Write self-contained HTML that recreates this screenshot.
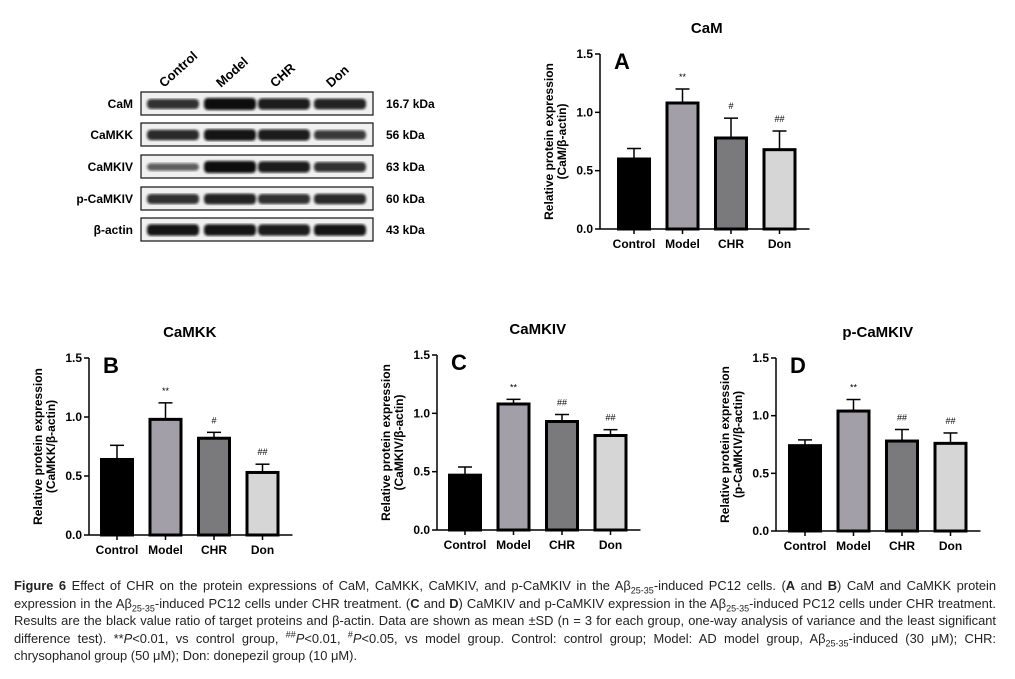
<!DOCTYPE html>
<html><head><meta charset="utf-8"><style>
body{margin:0;background:#fff;width:1015px;height:679px;overflow:hidden;position:relative;font-family:"Liberation Sans",sans-serif}
#cap{position:absolute;left:14px;top:577px;width:982px;font-family:"Liberation Sans",sans-serif;font-size:12.9px;line-height:17.6px;text-align:justify;color:#222}
#cap sub,#cap sup{line-height:0;font-size:9px}
</style></head><body>
<svg id="svg" width="1015" height="575" style="position:absolute;left:0;top:0" font-family="Liberation Sans, sans-serif">
<defs><filter id="blur"><feGaussianBlur stdDeviation="1.4"/></filter></defs>
<g id="blot"></g>
</svg>
<div id="cap"><b>Figure 6</b> Effect of CHR on the protein expressions of CaM, CaMKK, CaMKIV, and p-CaMKIV in the Aβ<sub>25-35</sub>-induced PC12 cells. (<b>A</b> and <b>B</b>) CaM and CaMKK protein expression in the Aβ<sub>25-35</sub>-induced PC12 cells under CHR treatment. (<b>C</b> and <b>D</b>) CaMKIV and p-CaMKIV expression in the Aβ<sub>25-35</sub>-induced PC12 cells under CHR treatment. Results are the black value ratio of target proteins and β-actin. Data are shown as mean ±SD (n = 3 for each group, one-way analysis of variance and the least significant difference test). **<i>P</i>&lt;0.01, vs control group, <sup>##</sup><i>P</i>&lt;0.01, <sup>#</sup><i>P</i>&lt;0.05, vs model group. Control: control group; Model: AD model group, Aβ<sub>25-35</sub>-induced (30 μM); CHR: chrysophanol group (50 μM); Don: donepezil group (10 μM).</div>
<script>
const NS="http://www.w3.org/2000/svg";
const svg=document.getElementById('svg');
function mk(t,a,p){const e=document.createElementNS(NS,t);for(const k in a)e.setAttribute(k,a[k]);(p||svg).appendChild(e);return e;}
const groups=["Control","Model","CHR","Don"];
const colors=["#000000","#a39fa8","#7a797c","#d6d6d6"];
const valsA=[0.60,1.08,0.78,0.68], errA=[0.09,0.12,0.17,0.16], sigA=["","**","#","##"];
const valsB=[0.64,0.98,0.82,0.53], errB=[0.12,0.14,0.05,0.07], sigB=["","**","#","##"];
const valsC=[0.47,1.08,0.93,0.81], errC=[0.07,0.04,0.06,0.05], sigC=["","**","##","##"];
const valsD=[0.74,1.04,0.78,0.76], errD=[0.05,0.10,0.10,0.09], sigD=["","**","##","##"];
const yTicks=[0,0.5,1.0,1.5], yTickLabels=["0.0","0.5","1.0","1.5"];
const blotRows=["CaM","CaMKK","CaMKIV","p-CaMKIV","β-actin"];
const blotKDa=["16.7 kDa","56 kDa","63 kDa","60 kDa","43 kDa"];
const blotIntensity=[[0.75,1,0.9,0.85],[0.8,0.95,0.9,0.7],[0.45,1,0.9,0.75],[0.75,0.85,0.75,0.8],[0.95,0.95,0.9,0.95]];

function chart(id,ax,y0,y15,firstX,title,letter,ylab2,vals,errs,sigs){
  const g=mk('g',{});
  const ys=v=>y0-(v/1.5)*(y0-y15);
  const xs=i=>firstX+i*48.5;
  const t=mk('text',{x:xs(1.5),y:y15-21,'text-anchor':'middle','font-size':15,'font-weight':'bold'},g);t.textContent=title;
  
  const L=mk('text',{x:ax+14,y:y15+15,'font-size':22,'font-weight':'bold'},g);L.textContent=letter;
  
  vals.forEach((v,i)=>{
    const x=xs(i),w=31;
    const top=ys(v+errs[i]);
    mk('line',{x1:x,x2:x,y1:ys(v),y2:top,stroke:'#000','stroke-width':1.5},g);
    mk('line',{x1:x-7,x2:x+7,y1:top,y2:top,stroke:'#000','stroke-width':1.5},g);
    const r=mk('rect',{x:x-w/2,y:ys(v),width:w,height:y0-ys(v),fill:colors[i],stroke:'#000','stroke-width':3},g);
    
    if(sigs[i]){const s=mk('text',{x:x,y:top-9,'text-anchor':'middle','font-size':9},g);s.textContent=sigs[i];}
    mk('line',{x1:x,x2:x,y1:y0,y2:y0+5,stroke:'#000','stroke-width':1.5},g);
    const xl=mk('text',{x:x,y:y0+19,'text-anchor':'middle','font-size':12,'font-weight':'bold'},g);xl.textContent=groups[i];
    
  });
  mk('line',{x1:ax,x2:ax,y1:y15,y2:y0,stroke:'#000','stroke-width':1.5},g);
  mk('line',{x1:ax,x2:xs(3)+30,y1:y0,y2:y0,stroke:'#000','stroke-width':1.5},g);
  yTicks.forEach((v,i)=>{
    mk('line',{x1:ax-5,x2:ax,y1:ys(v),y2:ys(v),stroke:'#000','stroke-width':1.5},g);
    const tl=mk('text',{x:ax-7,y:ys(v)+4,'text-anchor':'end','font-size':12,'font-weight':'bold'},g);tl.textContent=yTickLabels[i];
    
  });
  const cy=(y0+y15)/2;
  const yt=mk('text',{transform:`translate(${ax-47},${cy}) rotate(-90)`,'text-anchor':'middle','font-size':12,'font-weight':'bold'},g);
  yt.textContent='Relative protein expression';
  
  const yt2=mk('text',{transform:`translate(${ax-34},${cy}) rotate(-90)`,'text-anchor':'middle','font-size':12,'font-weight':'bold'},g);
  yt2.textContent=ylab2;
}
chart('a',600,229,54,634,'CaM','A','(CaM/β-actin)',valsA,errA,sigA);
chart('b',89,535,358,117,'CaMKK','B','(CaMKK/β-actin)',valsB,errB,sigB);
chart('c',437,530,355,465,'CaMKIV','C','(CaMKIV/β-actin)',valsC,errC,sigC);
chart('d',776,531,358,805,'p-CaMKIV','D','(p-CaMKIV/β-actin)',valsD,errD,sigD);

// blot
const blot=document.getElementById('blot');
const rowY=[92,123,155,187,218], laneX=[176,233,287,343];
groups.forEach((gname,i)=>{
  const t=mk('text',{transform:`translate(${laneX[i]-12},${88}) rotate(-42)`,'font-size':13,'font-weight':'bold'},blot);t.textContent=gname;
  
});
blotRows.forEach((r,j)=>{
  const y=rowY[j];
  const box=mk('rect',{x:141,y:y,width:232,height:23,fill:'#f0f0f0',stroke:'#222','stroke-width':1.3},blot);
  
  blotIntensity[j].forEach((v,i)=>{
    mk('rect',{x:laneX[i]-29,y:y+12-(2+4*v),width:52,height:2*(2+4*v),rx:4,fill:'#111',opacity:0.35+0.65*v,filter:'url(#blur)'},blot);
  });
  const l=mk('text',{x:133,y:y+16,'text-anchor':'end','font-size':12,'font-weight':'bold'},blot);l.textContent=r;
  
  const k=mk('text',{x:386,y:y+16,'font-size':12,'font-weight':'bold'},blot);k.textContent=blotKDa[j];
  
});
</script>
</body></html>
